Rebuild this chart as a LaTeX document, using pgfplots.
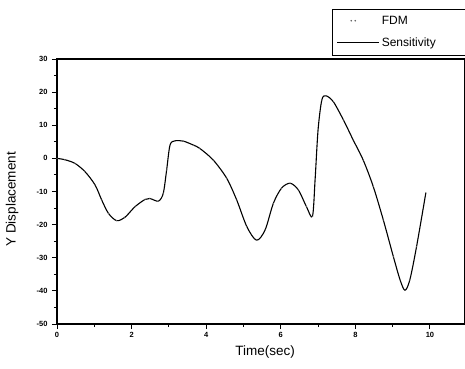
\documentclass[border=0pt]{standalone}
\usepackage{pgfplots}
\pgfplotsset{compat=1.18}
\usepackage{pgfplotstable}
\usepackage{fontspec}
\setmainfont{Liberation Sans}
\pgfplotstableread{
t v
0 0
0.21 -0.4
0.48 -1.5
0.75 -4
1.02 -8
1.2 -12.6
1.38 -16.6
1.6 -18.8
1.82 -17.8
2.09 -14.6
2.36 -12.4
2.49 -12.1
2.72 -12.9
2.85 -10.5
2.94 -3.5
3.03 4
3.16 5.3
3.39 5.2
3.66 4
3.83 3
4.19 -0.5
4.55 -6
4.82 -12.6
5.09 -20.6
5.35 -24.7
5.58 -21.6
5.8 -13.6
6.02 -9
6.25 -7.5
6.47 -9.5
6.69 -14.6
6.85 -17.5
6.92 -6.5
7.0 8.6
7.1 17.6
7.21 18.9
7.41 17.1
7.68 11.6
7.94 5.6
8.21 -0.5
8.48 -8.5
8.75 -18.6
9.02 -29.7
9.2 -36.7
9.33 -39.8
9.46 -36.7
9.64 -26.7
9.89 -10.4
}\datatable
\begin{document}
\begin{tikzpicture}
\begin{axis}[
  scale only axis,
  width=408pt, height=265pt,
  xmin=0, xmax=10.94, ymin=-50, ymax=30,
  xtick={0,2,4,6,8,10}, minor xtick={1,3,5,7,9},
  ytick={-50,-40,-30,-20,-10,0,10,20,30}, minor ytick={-45,-35,-25,-15,-5,5,15,25},
  tick align=outside, xtick pos=bottom, ytick pos=left,
  major tick length=5pt, minor tick length=3pt,
  every tick/.style={black, line width=0.9pt},
  axis line style={line width=1.2pt},
  tick label style={font=\fontsize{7.5}{8}\selectfont\bfseries},
  /pgf/number format/assume math mode=true,
  yticklabel style={xshift=-1pt},
  xlabel={Time(sec)}, ylabel={Y Displacement},
  label style={font=\fontsize{13.5}{15}\selectfont},
  xlabel style={at={(axis description cs:0.51,-0.106)}, anchor=center},
  ylabel style={at={(axis description cs:-0.086,0.47)}, anchor=south},
  legend style={at={(rel axis cs:1,1)}, anchor=south east, yshift=4pt,
    draw=black, line width=0.4pt, font=\fontsize{12}{14}\selectfont,
    inner xsep=5pt, inner ysep=5pt, row sep=8pt,
    nodes={text width=76pt}},
  legend cell align=left,
  legend image code/.code={\draw[#1] (0pt,0pt) -- (42pt,0pt);},
]
\coordinate (sw) at (rel axis cs:0,0);
\addplot[black!60, only marks, mark=*, mark size=0.35pt,
  legend image code/.code={\fill[black!60] (14pt,0pt) circle (0.5pt) (18pt,0pt) circle (0.5pt);}]
  table[x=t,y=v] {\datatable};
\addlegendentry{FDM}
\addplot[black, line width=1.1pt, smooth, tension=0.5] table[x=t,y=v] {\datatable};
\addlegendentry{Sensitivity}
\end{axis}
\pgfresetboundingbox
\path (sw) ++(-57pt,-44pt) rectangle ++(465pt,368pt);
\end{tikzpicture}
\end{document}
